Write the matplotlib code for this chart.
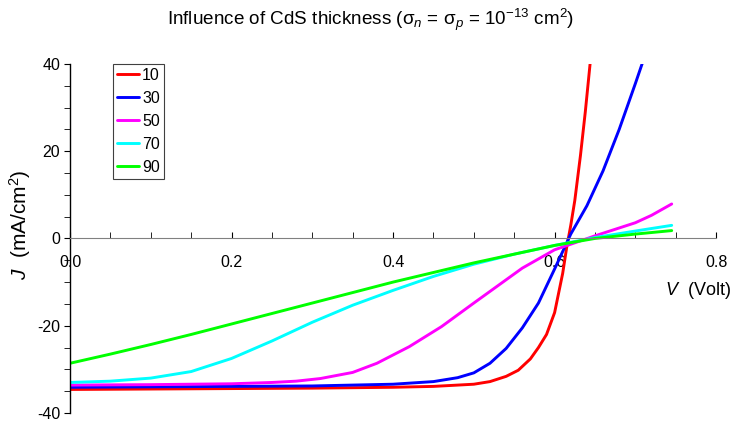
import matplotlib.pyplot as plt
from matplotlib.ticker import MultipleLocator

plt.rcParams['font.family'] = ['Liberation Sans', 'DejaVu Sans']
plt.rcParams['mathtext.fontset'] = 'custom'
plt.rcParams['mathtext.rm'] = 'Liberation Sans'
plt.rcParams['mathtext.it'] = 'Liberation Sans:italic'
plt.rcParams['axes.unicode_minus'] = False

# J-V curves for different CdS thicknesses (nm)
v_10 = [0, 0.1, 0.2, 0.3, 0.4, 0.45, 0.5, 0.52, 0.54, 0.555, 0.57, 0.58, 0.59, 0.6, 0.61, 0.615, 0.62, 0.625, 0.632, 0.638, 0.645]
j_10 = [-34.6, -34.5, -34.4, -34.3, -34.1, -33.9, -33.4, -32.8, -31.6, -30.2, -27.6, -25.0, -22.0, -17.0, -8.0, -2.0, 3.0, 8.7, 19.0, 29.0, 42.0]

v_30 = [0, 0.1, 0.2, 0.3, 0.4, 0.45, 0.48, 0.5, 0.52, 0.54, 0.56, 0.58, 0.6, 0.62, 0.64, 0.66, 0.68, 0.7, 0.712]
j_30 = [-34.1, -34.0, -33.9, -33.8, -33.4, -32.8, -31.9, -30.8, -28.6, -25.2, -20.5, -14.8, -7.0, 1.0, 7.5, 15.5, 25.0, 35.5, 42.0]

v_50 = [0, 0.1, 0.2, 0.25, 0.28, 0.31, 0.35, 0.38, 0.42, 0.46, 0.5, 0.53, 0.56, 0.6, 0.65, 0.7, 0.72, 0.745]
j_50 = [-33.6, -33.5, -33.3, -33.0, -32.7, -32.1, -30.7, -28.6, -24.8, -20.2, -14.8, -10.8, -6.8, -2.6, 0.6, 3.6, 5.3, 7.9]

v_70 = [0, 0.05, 0.1, 0.15, 0.2, 0.25, 0.3, 0.35, 0.4, 0.45, 0.5, 0.55, 0.6, 0.65, 0.7, 0.745]
j_70 = [-33.0, -32.7, -32.0, -30.5, -27.5, -23.5, -19.2, -15.3, -11.9, -8.7, -5.9, -3.6, -1.6, 0.2, 1.7, 3.0]

v_90 = [0, 0.05, 0.1, 0.15, 0.2, 0.25, 0.3, 0.35, 0.4, 0.45, 0.5, 0.55, 0.6, 0.65, 0.7, 0.745]
j_90 = [-28.6, -26.5, -24.3, -22.0, -19.6, -17.2, -14.8, -12.4, -10.0, -7.8, -5.6, -3.6, -1.6, 0.0, 1.0, 1.8]

labels = ['10', '30', '50', '70', '90']
colors = ['#ff0000', '#0000ff', '#ff00ff', '#00ffff', '#00ff00']

fig = plt.figure(figsize=(7.33, 4.23), dpi=100)
ax = fig.add_axes([0.0955, 0.0236, 0.8815, 0.8254])

series = [(v_10, j_10), (v_30, j_30), (v_50, j_50), (v_70, j_70), (v_90, j_90)]
for (v, j), lab, c in zip(series, labels, colors):
    ax.plot(v, j, color=c, lw=2.1, label=lab, solid_capstyle='round', solid_joinstyle='round')

ax.set_xlim(0, 0.8)
ax.set_ylim(-40, 40)

ax.spines['top'].set_visible(False)
ax.spines['right'].set_visible(False)
ax.spines['bottom'].set_position(('data', 0))
ax.spines['bottom'].set_color('#808080')
ax.spines['left'].set_linewidth(1.0)

ax.xaxis.set_major_locator(MultipleLocator(0.2))
ax.xaxis.set_minor_locator(MultipleLocator(0.05))
ax.yaxis.set_major_locator(MultipleLocator(20))
ax.yaxis.set_minor_locator(MultipleLocator(5))
ax.xaxis.set_major_formatter(plt.FuncFormatter(lambda x, p: f'{x:.1f}'))

ax.tick_params(axis='x', which='both', direction='in', length=4, color='black', labelsize=11.5, pad=12)
ax.tick_params(axis='y', which='both', direction='out', length=4, labelsize=11.5, pad=3)

ax.set_ylabel(r'$J$  (mA/cm$^2$)', fontsize=15)
ax.yaxis.set_label_coords(-0.058, 0.54)
ax.set_xlabel(r'$V$  (Volt)', fontsize=13)
ax.xaxis.set_label_coords(0.972, 0.35)
ax.xaxis.label.set_va('center')

fig.text(0.505, 0.953, r'Influence of CdS thickness ($\mathrm{\sigma}_n$ = $\mathrm{\sigma}_p$ = 10$^{-13}$ cm$^2$)',
         ha='center', va='center', fontsize=13.6)

leg = ax.legend(loc='upper left', bbox_to_anchor=(0.066, 1.0), fontsize=11.5,
                handlelength=1.4, handletextpad=0.2, labelspacing=0.5,
                borderpad=0.25, borderaxespad=0, fancybox=False, framealpha=1,
                edgecolor='#404040')
leg.get_frame().set_linewidth(0.8)

plt.savefig('out.png', dpi=100)
